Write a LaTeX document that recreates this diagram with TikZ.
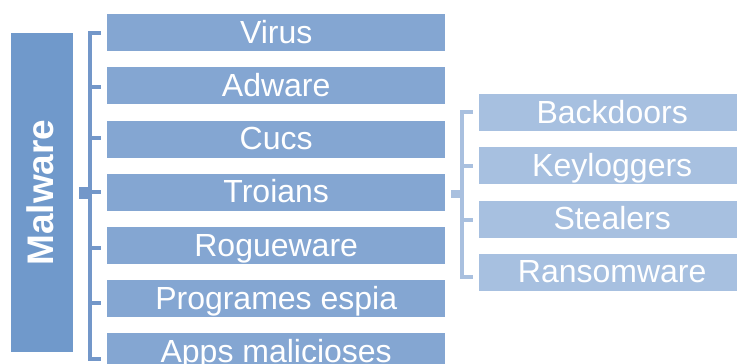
\documentclass[tikz,border=0pt]{standalone}
\usepackage{fontspec}
\setmainfont{Liberation Sans}
\usetikzlibrary{calc}
\definecolor{rootfill}{HTML}{7099CB}
\definecolor{levelone}{HTML}{84A6D2}
\definecolor{leveltwo}{HTML}{A7C0E0}
\definecolor{braceone}{HTML}{7397C9}
\definecolor{bracetwo}{HTML}{A9C0DF}
\tikzset{
  catbox/.style={rectangle, fill=levelone, draw=none, inner sep=0pt, anchor=north west,
    minimum width=338pt, minimum height=37pt, text=white,
    font=\fontsize{32}{32}\selectfont, text height=26pt, text depth=5pt},
  subbox/.style={catbox, fill=leveltwo, minimum width=266pt},
  rootbox/.style={rectangle, fill=rootfill, inner sep=0pt, text=white,
    font=\bfseries\fontsize{37}{37}\selectfont, text height=27pt, text depth=5pt},
  braceA/.style={draw=braceone, line width=4pt},
  braceB/.style={draw=bracetwo, line width=4pt},
}
\begin{document}
\begin{tikzpicture}[x=1pt,y=-1pt]
\useasboundingbox (0,0) rectangle (737,364);
\clip (0,0) rectangle (737,364);

% root
\node[rootbox, minimum width=319pt, minimum height=62pt, rotate=90] (root) at (42,192.5) {Malware};

% first level
\node[catbox] (v) at (107,14) {Virus};
\node[catbox] (a) at (107,67.2) {Adware};
\node[catbox] (c) at (107,120.4) {Cucs};
\node[catbox] (t) at (107,173.6) {Troians};
\node[catbox] (r) at (107,226.8) {Rogueware};
\node[catbox] (p) at (107,280) {Programes espia};
\node[catbox] (m) at (107,333.2) {Apps malicioses};

% second level
\node[subbox] (bd) at (479,94) {Backdoors};
\node[subbox] (kl) at (479,147) {Keyloggers};
\node[subbox] (st) at (479,200.5) {Stealers};
\node[subbox] (rw) at (479,253.5) {Ransomware};

% bracket grouping the first level
\coordinate (Ltop) at ($(v.west)+(-6,0.5)$);
\coordinate (Lbot) at ($(m.west)+(-6,7)$);
\draw[braceA, line join=miter] (Ltop) -- ++(-11,0) |- (Lbot);
\foreach \n/\dy in {a/1.5,c/-1,t/0,r/2,p/4.5}
  \draw[braceA] ($(\n.west)+(-17,\dy)$) -- ++(11,0);
\fill[braceone] ($(t.west)+(-28,-5.5)$) rectangle ($(t.west)+(-17,6.5)$);

% bracket grouping the second level
\coordinate (Rtop) at ($(bd.west)+(-6,-0.5)$);
\coordinate (Rbot) at ($(rw.west)+(-6,5)$);
\draw[braceB, line join=miter] (Rtop) -- ++(-11,0) |- (Rbot);
\foreach \n/\dy in {kl/0.5,st/1}
  \draw[braceB] ($(\n.west)+(-17,\dy)$) -- ++(11,0);
\fill[bracetwo] ($(t.east)+(6,-2)$) rectangle ($(t.east)+(17,6)$);
\end{tikzpicture}
\end{document}
